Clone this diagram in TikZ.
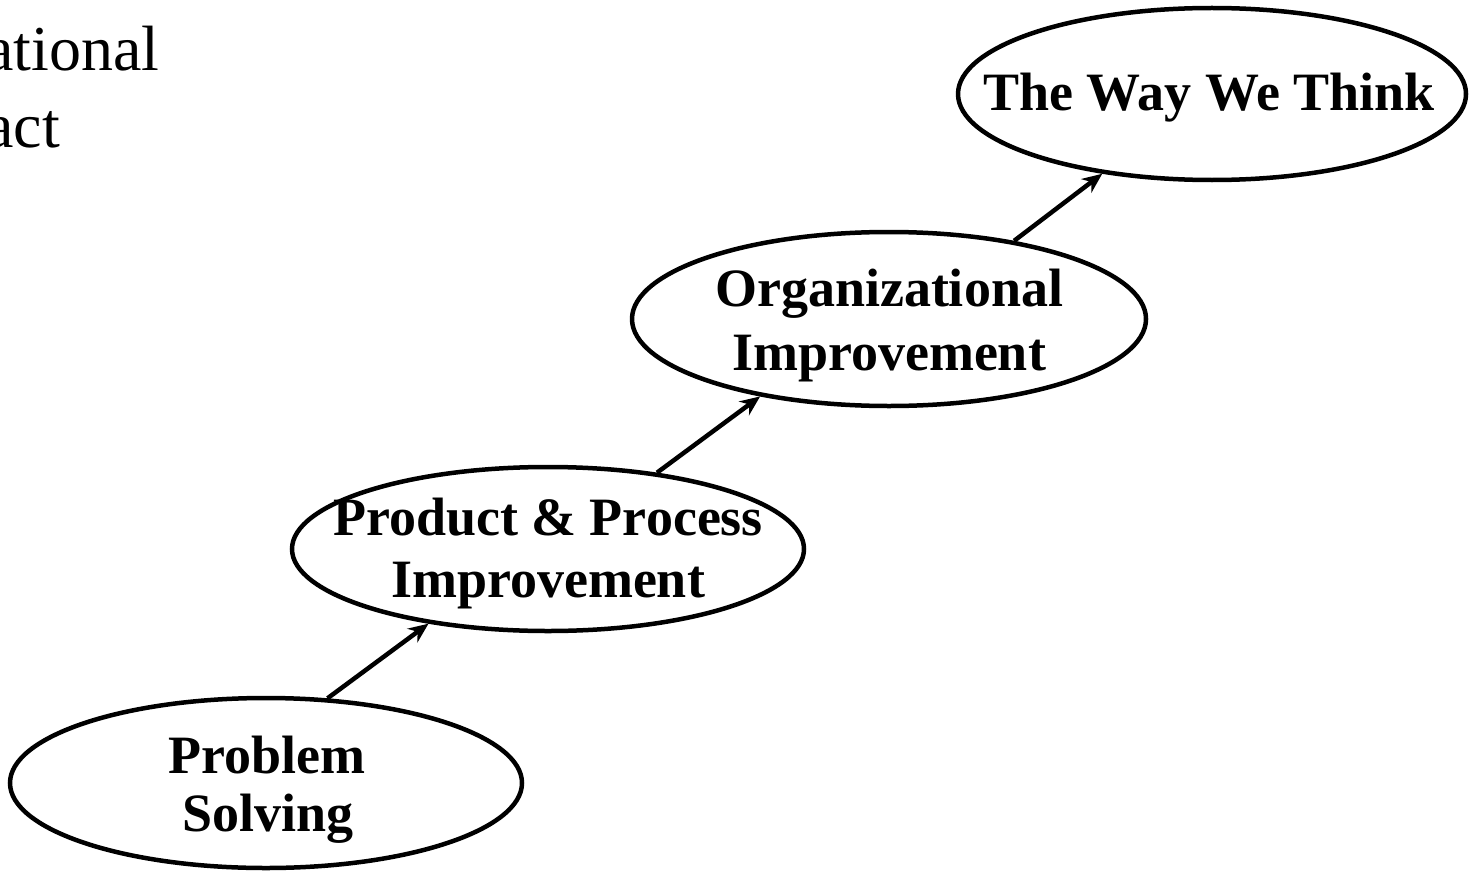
\documentclass[tikz,border=0pt]{standalone}
\usepackage{fontspec}
\setmainfont{Liberation Serif}
\usetikzlibrary{shapes.geometric,arrows.meta}
\begin{document}
\begin{tikzpicture}[x=1pt,y=-1pt,
  stage/.style={ellipse,draw,line width=4.5pt,inner sep=0pt},
  lbl/.style={anchor=base,inner sep=0pt,font=\fontsize{54}{62}\selectfont\bfseries},
  side/.style={anchor=base west,inner sep=0pt,font=\fontsize{64}{76}\selectfont},
  arr/.style={line width=4.5pt,-{Stealth[length=20pt,width=17pt]}}]
\useasboundingbox (0,0) rectangle (1474,872);

% stage ellipses
\node[stage,minimum width=512pt,minimum height=170pt] (ps) at (266,783) {};
\node[stage,minimum width=512pt,minimum height=164pt] (pp) at (548,549) {};
\node[stage,minimum width=514pt,minimum height=174pt] (oi) at (889,319) {};
\node[stage,minimum width=508pt,minimum height=172pt] (ww) at (1212,94) {};

% labels
\node[lbl] (ps1) at (267,773) {Problem};
\node[lbl] (ps2) at (268,831) {Solving};
\node[lbl] (pp1) at (548,535) {Product \& Process};
\node[lbl] (pp2) at (548,597) {Improvement};
\node[lbl] (oi1) at (889,306) {Organizational};
\node[lbl] (oi2) at (889,370) {Improvement};
\node[lbl] (ww1) at (1209,111) {The Way We Think};

% side caption
\node[side] (cap1) at (-15,71) {ational};
\node[side] (cap2) at (-15,147) {act};

% steps
\draw[arr] (ps.54.5) -- (pp.212);
\draw[arr] (pp.35) -- (oi.211.5);
\draw[arr] (oi.32) -- (ww.216);
\end{tikzpicture}
\end{document}
